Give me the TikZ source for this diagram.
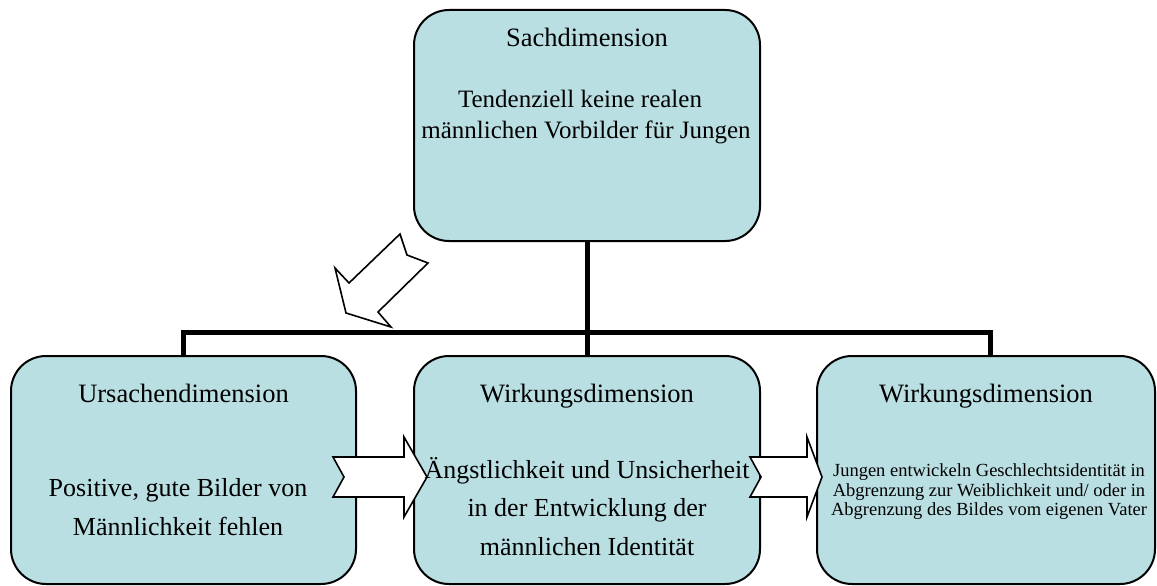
\documentclass[tikz,border=0pt]{standalone}
\usepackage{fontspec}
\setmainfont{Liberation Serif}
\definecolor{boxfill}{RGB}{186,223,227}
\tikzset{
  dimbox/.style={draw=black, line width=2pt, fill=boxfill, rounded corners=35pt, inner sep=0pt},
  conn/.style={draw=black, line width=5pt, line join=miter},
  blockarrow/.style={draw=black, line width=1.6pt, fill=white, line join=miter},
  titletxt/.style={anchor=base, inner sep=0pt, font=\fontsize{26.5}{31}\selectfont},
  bigtxt/.style={anchor=base, inner sep=0pt, font=\fontsize{26}{31}\selectfont},
  toptxt/.style={anchor=base, inner sep=0pt, font=\fontsize{25}{31}\selectfont},
  smalltxt/.style={anchor=base, inner sep=0pt, font=\fontsize{18.5}{19.5}\selectfont}
}
\begin{document}
\begin{tikzpicture}[x=1pt,y=-1pt]
\useasboundingbox (0,0) rectangle (1157,586);
% boxes
\node[dimbox, minimum width=346pt, minimum height=231pt] (top) at (587,125.5) {};
\node[dimbox, minimum width=345pt, minimum height=228pt] (left) at (183.5,470) {};
\node[dimbox, minimum width=346pt, minimum height=228pt] (mid) at (587,470) {};
\node[dimbox, minimum width=338pt, minimum height=228pt] (right) at (986,470) {};
% connectors
\coordinate (busL) at (183.5,332.5);
\coordinate (busR) at (990,332.5);
\draw[conn] (left.north) -- (left.north |- busL) -- (busR) -- (busR |- right.north);
\draw[conn] (top.south) -- (top.south |- busL) -- (mid.north);
% block arrows
\draw[blockarrow] (400,234) -- (407,255) -- (428,263) -- (378,312) -- (391,327) -- (346,313) -- (335,268) -- (349,283) -- cycle;
\draw[blockarrow] (333,457) -- (404,457) -- (404,437) -- (427,477) -- (404,517) -- (404,497) -- (333,497) -- (344,477) -- cycle;
\draw[blockarrow] (750,457) -- (807,457) -- (807,437) -- (822,477) -- (807,517) -- (807,497) -- (750,497) -- (761,477) -- cycle;
% texts top
\node[titletxt] (t1) at (587,47) {Sachdimension};
\node[toptxt] (t2) at (580,107) {Tendenziell keine realen};
\node[toptxt] (t3) at (586,138) {männlichen Vorbilder für Jungen};
% left
\node[titletxt] (l1) at (183.5,402) {Ursachendimension};
\node[bigtxt] (l2) at (178,496) {Positive, gute Bilder von};
\node[bigtxt] (l3) at (178,535) {Männlichkeit fehlen};
% mid
\node[titletxt] (m1) at (587,402) {Wirkungsdimension};
\node[bigtxt] (m2) at (587,478) {Ängstlichkeit und Unsicherheit};
\node[bigtxt] (m3) at (587,516.5) {in der Entwicklung der};
\node[bigtxt] (m4) at (587,555) {männlichen Identität};
% right
\node[titletxt] (r1) at (986,402) {Wirkungsdimension};
\node[smalltxt] (r2) at (989,476.5) {Jungen entwickeln Geschlechtsidentität in};
\node[smalltxt] (r3) at (989,496) {Abgrenzung zur Weiblichkeit und/ oder in};
\node[smalltxt] (r4) at (989,515.5) {Abgrenzung des Bildes vom eigenen Vater};
\end{tikzpicture}
\end{document}
